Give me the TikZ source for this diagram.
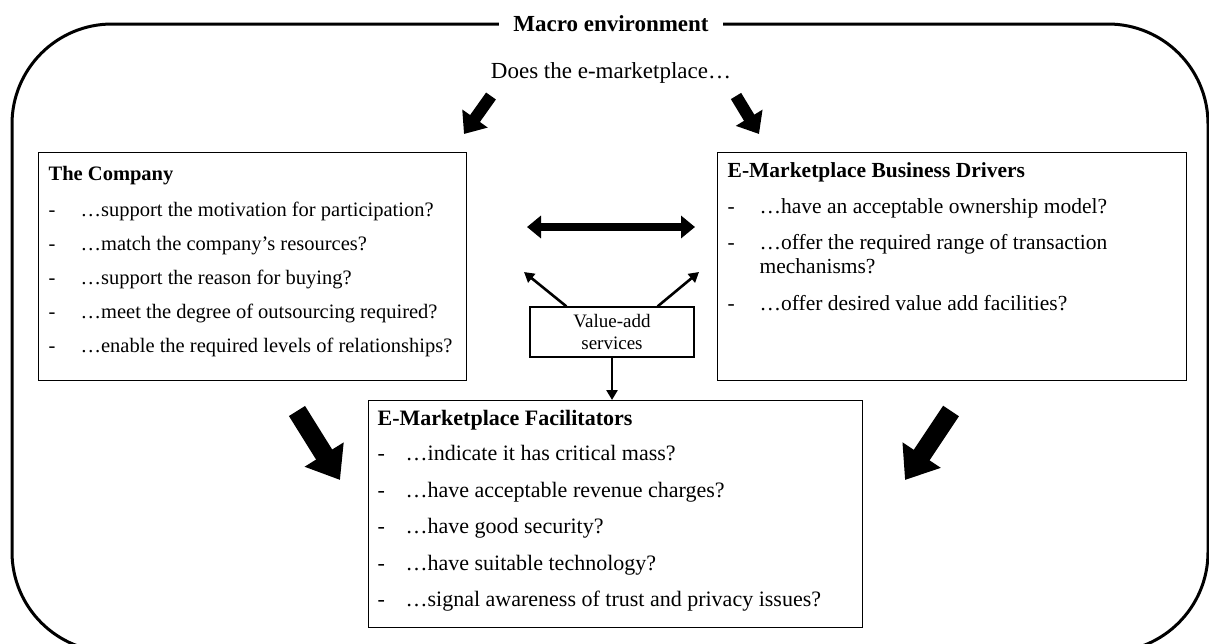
\documentclass[tikz,border=0pt]{standalone}
\usepackage{fontspec}
\setmainfont{Liberation Serif}
\usetikzlibrary{arrows.meta}

% one question line of a box: dash, then the text
\newcommand{\qline}[2][32pt]{\makebox[#1][l]{-}#2}

\begin{document}
\begin{tikzpicture}[x=1pt,y=1pt,yscale=-1,xscale=1,
  box/.style={draw, line width=1.3pt, anchor=north west, inner xsep=10pt, inner ysep=10pt},
  bigarrow/.style={line width=19pt, -{Triangle[width=44pt,length=30pt]}},
  toparrow/.style={line width=12pt, -{Triangle[width=30pt,length=19pt]}},
  thinarrow/.style={line width=2.6pt, -{Triangle[width=11pt,length=10pt]}}]
\useasboundingbox (0,0) rectangle (1209,643);
\clip (0,0) rectangle (1209,643);

%Shape: Rounded frame
\draw [line width=3pt, rounded corners=100pt] (12,24) rectangle (1208,652);
% Text Node
\node [fill=white, inner xsep=14pt, font=\bfseries\fontsize{23}{27}\selectfont] (macro) at (611,24) {Macro environment};
% Text Node
\node [font=\fontsize{23}{27}\selectfont] (ask) at (611,73) {Does the e-marketplace…};

%Shape: The Company
\node [box, inner ysep=14pt, font=\fontsize{20.5}{24.6}\selectfont] (company) at (38,152) {\parbox[c][200pt][t]{408pt}{%
\textbf{The Company}\\[11pt]
\qline{…support the motivation for participation?}\\[9.4pt]
\qline{…match the company’s resources?}\\[9.4pt]
\qline{…support the reason for buying?}\\[9.4pt]
\qline{…meet the degree of outsourcing required?}\\[9.4pt]
\qline{…enable the required levels of relationships?}}};

%Shape: Business Drivers
\node [box, font=\fontsize{21.5}{24}\selectfont] (drivers) at (717,152) {\parbox[c][208pt][t]{449pt}{%
\textbf{E-Marketplace Business Drivers}\\[12pt]
\qline{…have an acceptable ownership model?}\\[12pt]
\qline{…offer the required range of transaction}\\
\hspace*{32pt}mechanisms?\\[13pt]
\qline{…offer desired value add facilities?}}};

%Shape: Facilitators
\node [box, inner xsep=9pt, font=\fontsize{22}{26.4}\selectfont] (facil) at (368,400) {\parbox[c][207pt][t]{476pt}{%
\textbf{E-Marketplace Facilitators}\\[8.5pt]
\qline[28pt]{…indicate it has critical mass?}\\[10pt]
\qline[28pt]{…have acceptable revenue charges?}\\[10pt]
\qline[28pt]{…have good security?}\\[10pt]
\qline[28pt]{…have suitable technology?}\\[10pt]
\qline[28pt]{…signal awareness of trust and privacy issues?}}};

%Shape: Value-add services
\node [draw, line width=1.3pt, minimum width=164pt, minimum height=50pt, align=center, inner sep=0pt,
       font=\fontsize{19}{22}\selectfont] (value) at (612,332) {Value-add\\services};

% free ends of the arrows
\coordinate (tl) at (491,96);
\coordinate (tlend) at (464,134);
\coordinate (tr) at (736,96);
\coordinate (trend) at (759,134);
\coordinate (bl) at (297,411);
\coordinate (blend) at (340,480);
\coordinate (br) at (951,411);
\coordinate (brend) at (905,480);
\coordinate (dl) at (527,227);
\coordinate (dr) at (695,227);
\coordinate (vl) at (524,272);
\coordinate (vr) at (699,272);

%Block Arrows
\draw [toparrow] (tl) -- (tlend);
\draw [toparrow] (tr) -- (trend);
\draw [bigarrow] (bl) -- (blend);
\draw [bigarrow] (br) -- (brend);
\draw [line width=8pt, {Triangle[width=22pt,length=14pt]}-{Triangle[width=22pt,length=14pt]}] (dl) -- (dr);
%Straight Lines
\draw [thinarrow] (value.north west) ++(37,0) -- (vl);
\draw [thinarrow] (value.north east) ++(-37,0) -- (vr);
\draw [thinarrow] (value.south) -- (value.south |- facil.north);
\end{tikzpicture}
\end{document}
